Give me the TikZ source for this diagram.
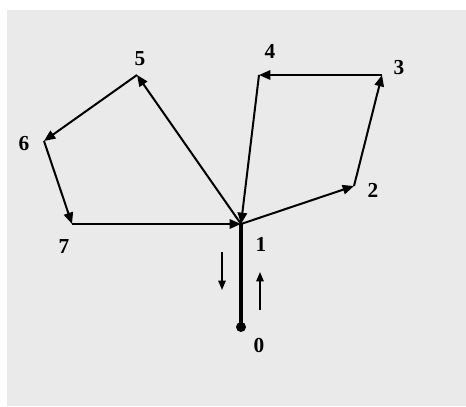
\documentclass[tikz,border=0pt]{standalone}
\usepackage{fontspec}
\setmainfont{Liberation Serif}
\usetikzlibrary{arrows.meta}

\definecolor{panel}{HTML}{EAEAEA}

\begin{document}
\begin{tikzpicture}[
  x = 0.75pt, y = -0.75pt,
  num/.style  = {font=\fontsize{16}{18}\selectfont\bfseries, inner sep=0pt},
  arr/.style  = {-{Triangle[length=8.5pt, width=7pt]}, line width=1.5pt},
  lead/.style = {-{Triangle[length=7pt, width=5.5pt]}, line width=1.2pt},
  stem/.style = {line width=2.4pt}
]
\useasboundingbox (0,0) rectangle (466,406);
\fill[panel] (7,10) rectangle (466,406);
% vertices
\coordinate (v0) at (241,327);
\coordinate (v1) at (241,224);
\coordinate (v2) at (354,186);
\coordinate (v3) at (382,75);
\coordinate (v4) at (259,75);
\coordinate (v5) at (137,75);
\coordinate (v6) at (44,141);
\coordinate (v7) at (72,224);
% labels
\node[num] (l0) at (259,346) {0};
\node[num] (l1) at (261,244) {1};
\node[num] (l2) at (373,190) {2};
\node[num] (l3) at (399,68)  {3};
\node[num] (l4) at (270,51)  {4};
\node[num] (l5) at (140,59)  {5};
\node[num] (l6) at (24,144)  {6};
\node[num] (l7) at (64,247)  {7};
% edges
\draw[stem] (v0) -- (v1);
\fill (v0) circle (5);
\draw[arr] (v1) -- (v2);
\draw[arr] (v2) -- (v3);
\draw[arr] (v3) -- (v4);
\draw[arr] (v4) -- (v1);
\draw[arr] (v1) -- (v5);
\draw[arr] (v5) -- (v6);
\draw[arr] (v6) -- (v7);
\draw[arr] (v7) -- (v1);
% direction marks
\coordinate (dn1) at (222,252);
\coordinate (dn2) at (222,290);
\coordinate (up1) at (260,310);
\coordinate (up2) at (260,272);
\draw[lead] (dn1) -- (dn2);
\draw[lead] (up1) -- (up2);
\end{tikzpicture}
\end{document}
